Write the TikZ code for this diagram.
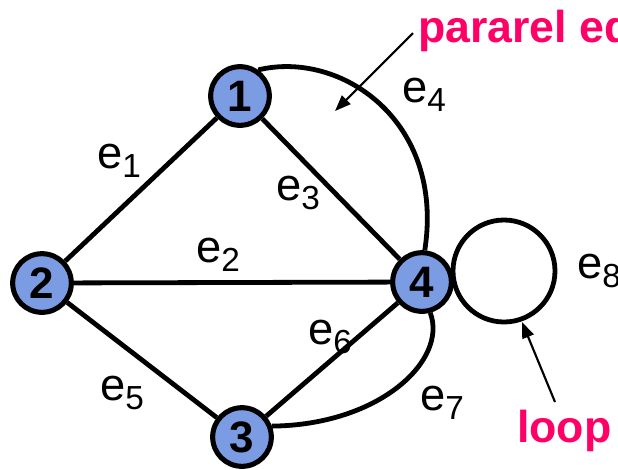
\documentclass[tikz,border=0pt]{standalone}
\usepackage{fontspec}
\setmainfont{Liberation Sans}
\usetikzlibrary{arrows.meta}
\definecolor{nodeblue}{HTML}{7B9BE3}
\definecolor{hotpink}{HTML}{FF0066}
\begin{document}
\begin{tikzpicture}[x=0.75pt,y=-0.75pt,
  vertex/.style={circle,draw=black,line width=3.8pt,fill=nodeblue,minimum size=44pt,inner sep=0pt,
    font=\fontsize{33}{33}\selectfont\bfseries},
  edge/.style={line width=3.6pt},
  elabel/.style={font=\fontsize{34}{34}\selectfont,inner sep=0pt,anchor=base west},
  note/.style={font=\fontsize{33.5}{33.5}\selectfont\bfseries,text=hotpink,inner sep=0pt,anchor=base west},
  pointer/.style={line width=1.6pt,-{Triangle[length=12pt,width=9pt]}}]
\clip (0,0) rectangle (618,469);
\fill[white] (0,0) rectangle (618,469);
\node[vertex] (n1) at (240,96) {1};
\node[vertex] (n2) at (42,283) {2};
\node[vertex] (n3) at (242,437) {3};
\node[vertex] (n4) at (422,282) {4};
\draw[edge] (n1) -- (n2);
\draw[edge] (n1) -- (n4);
\draw[edge] (n2) -- (n4);
\draw[edge] (n2) -- (n3);
\draw[edge] (n3) -- (n4);
\draw[edge] (n1.55) .. controls (340,50) and (445,120) .. (n4.85);
\draw[edge] (n4.285) .. controls (448,360) and (380,425) .. (n3.20);
\coordinate (lc) at (504,271);
\draw[edge] (lc) circle (51);
\newcommand{\elab}[1]{e\raisebox{-7pt}{\fontsize{25}{25}\selectfont #1}}
\node[elabel] (l1) at (97,168) {\elab{1}};
\node[elabel] (l2) at (196,262) {\elab{2}};
\node[elabel] (l3) at (276,200) {\elab{3}};
\node[elabel] (l4) at (402,102) {\elab{4}};
\node[elabel] (l5) at (100,400) {\elab{5}};
\node[elabel] (l6) at (308,344) {\elab{6}};
\node[elabel] (l7) at (420,410) {\elab{7}};
\node[elabel] (l8) at (577,278) {\elab{8}};
\node[note] (t1) at (418,42) {pararel ed};
\node[note] (t2) at (517,442) {loop};
\coordinate (a1s) at (413,33);
\coordinate (a1e) at (335,111);
\draw[pointer] (a1s) -- (a1e);
\coordinate (a2s) at (555,402);
\coordinate (a2e) at (522,322);
\draw[pointer] (a2s) -- (a2e);
\end{tikzpicture}
\end{document}
